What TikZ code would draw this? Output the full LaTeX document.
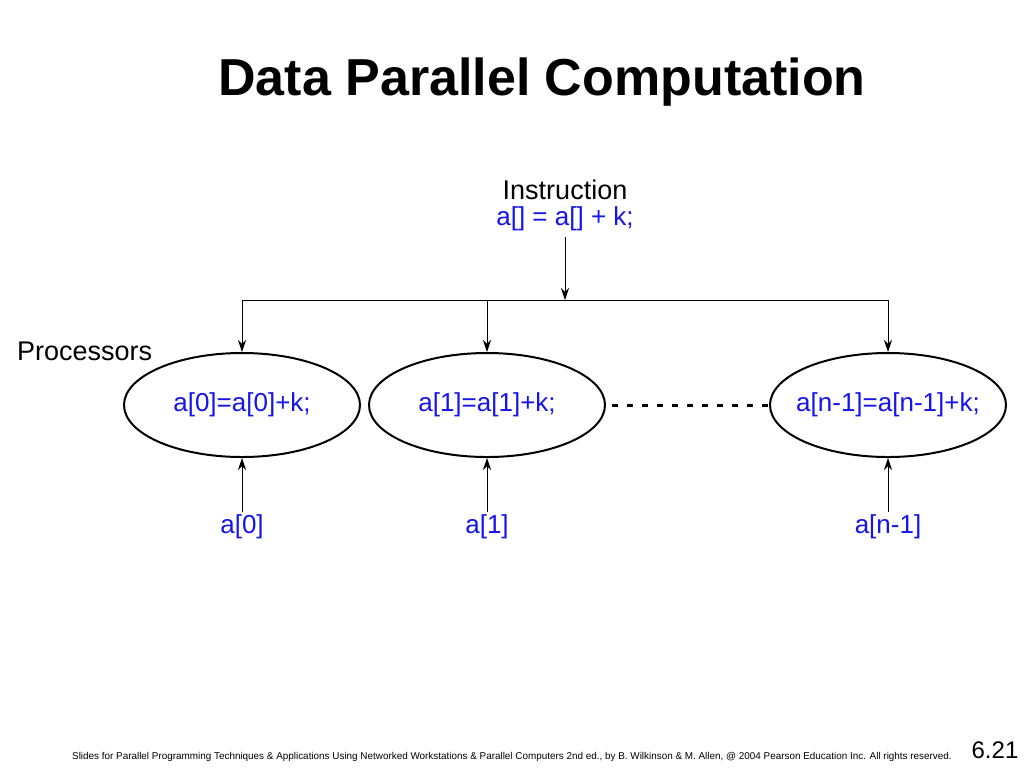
\documentclass[tikz,border=0pt]{standalone}
\usepackage{fontspec}
\setmainfont{Liberation Sans}
\usetikzlibrary{shapes,positioning,arrows,arrows.meta}
\definecolor{codeblue}{RGB}{20,20,235}

\begin{document}
\begin{tikzpicture}[x=0.5pt,y=-0.5pt,
  proc/.style={draw, ellipse, line width=1pt, minimum width=118pt, minimum height=52pt, inner xsep=-30pt, inner ysep=0pt, text=codeblue, font=\fontsize{13}{15}\selectfont},
  lbl/.style={text=codeblue, font=\fontsize{13}{15}\selectfont, inner sep=1pt},
  arr/.style={-{Stealth[length=6pt,width=4pt]}, line width=0.5pt}]
  \useasboundingbox (0,0) rectangle (1024,768);
  \node (title) at (542,82) {\fontsize{26}{30}\selectfont\bfseries Data Parallel Computation};
  \node[inner sep=0pt] (ins) at (565,190) {\fontsize{13.5}{15}\selectfont Instruction};
  \node[lbl, inner sep=0pt, below=3pt of ins] (code) {a[] = a[] + k;};
  \node[anchor=west] (procs) at (10,351) {\fontsize{13.5}{15}\selectfont Processors};
  \coordinate (bm) at (565,300);
  \coordinate (b0) at (242,300);
  \coordinate (b1) at (487,300);
  \coordinate (b2) at (888,300);
  \node[proc] (p0) at (242,405) {a[0]=a[0]+k;};
  \node[proc] (p1) at (487,405) {a[1]=a[1]+k;};
  \node[proc] (p2) at (888,405) {a[n-1]=a[n-1]+k;};
  \node[lbl] (d0) at (242,527) {a[0]};
  \node[lbl] (d1) at (487,527) {a[1]};
  \node[lbl] (d2) at (888,527) {a[n-1]};
  \draw[line width=0.5pt] (b0) -- (b2);
  \draw[arr, shorten <=3pt] (code) -- (bm);
  \draw[arr] (b0) -- (p0);
  \draw[arr] (b1) -- (p1);
  \draw[arr] (b2) -- (p2);
  \draw[arr] (d0) -- (p0);
  \draw[arr] (d1) -- (p1);
  \draw[arr] (d2) -- (p2);
  \draw[line width=1.5pt, dash pattern=on 3pt off 4.5pt, shorten <=3pt] (p1) -- (p2);
  \node (foot) at (512,757) {\fontsize{4.95}{6}\selectfont Slides for Parallel Programming Techniques \& Applications Using Networked Workstations \& Parallel Computers 2nd ed., by B. Wilkinson \& M. Allen, @ 2004 Pearson Education Inc. All rights reserved.};
  \node (page) at (995,750) {\fontsize{12}{14}\selectfont 6.21};
\end{tikzpicture}
\end{document}
